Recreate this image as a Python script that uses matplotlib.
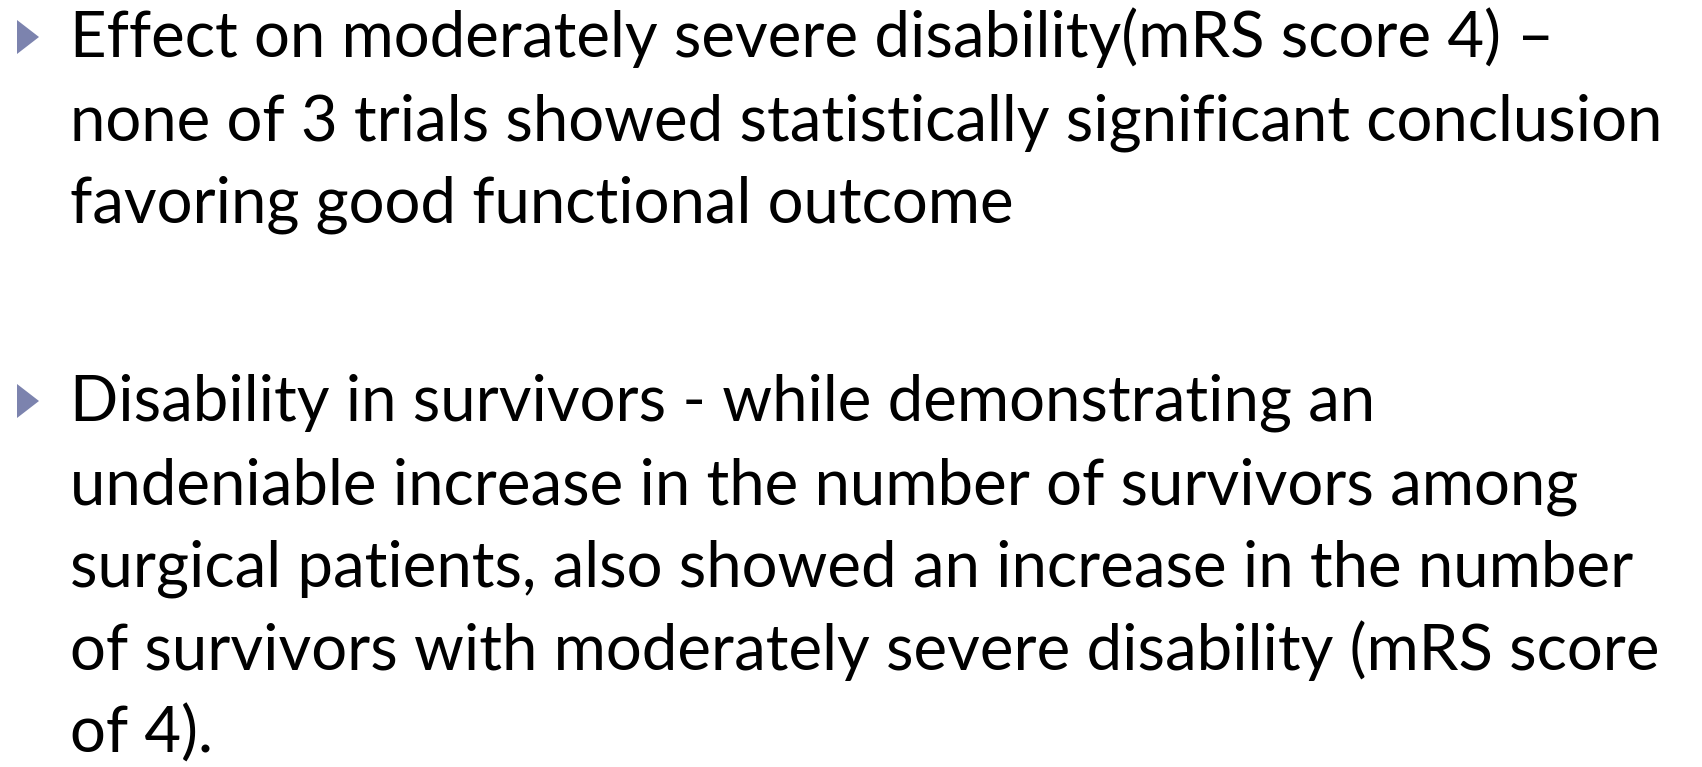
import matplotlib.pyplot as plt
from matplotlib.patches import Polygon

# slide text, one list per bullet (each entry is a wrapped line)
bullet_1 = [
    "Effect on moderately severe disability(mRS score 4) \u2013",
    "none of 3 trials showed statistically significant conclusion",
    "favoring good functional outcome",
]
bullet_2 = [
    "Disability in survivors - while demonstrating an",
    "undeniable increase in the number of survivors among",
    "surgical patients, also showed an increase in the number",
    "of survivors with moderately severe disability (mRS score",
    "of 4).",
]
bullets = [bullet_1, bullet_2]
first_baselines = [57, 421]  # pixel rows of the first line of each bullet

W, H = 1702, 767
line_step = 83
text_x = 70
bullet_color = '#7C83AE'

fig = plt.figure(figsize=(W / 100, H / 100), dpi=100)
ax = fig.add_axes([0, 0, 1, 1])
ax.set_xlim(0, W)
ax.set_ylim(H, 0)
ax.axis('off')

for lines, y0 in zip(bullets, first_baselines):
    # triangle bullet next to the first line
    tri = Polygon([[17, y0 - 37], [39, y0 - 20], [17, y0 - 3]], closed=True,
                  facecolor=bullet_color, edgecolor='none')
    ax.add_patch(tri)
    for i, line in enumerate(lines):
        ax.text(text_x, y0 + i * line_step, line, fontsize=45.7, family='Lato',
                color='black', ha='left', va='baseline')

plt.savefig('out.png', dpi=100, facecolor='white')
